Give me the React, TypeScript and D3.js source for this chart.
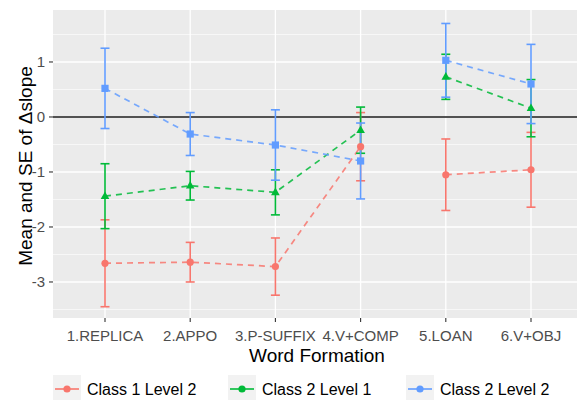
import React from "react";
import * as d3 from "d3";

const categories = ["1.REPLICA", "2.APPO", "3.P-SUFFIX", "4.V+COMP", "5.LOAN", "6.V+OBJ"];
const seriesNames = ["Class 1 Level 2", "Class 2 Level 1", "Class 2 Level 2"];
const seriesColors = ["#F8766D", "#00BA38", "#619CFF"];
const seriesShapes = ["circle", "triangle", "square"];

const meanC1L2 = [-2.66, -2.64, -2.72, -0.54, -1.05, -0.96];
const seC1L2 = [0.79, 0.36, 0.52, 0.62, 0.65, 0.68];
const meanC2L1 = [-1.44, -1.25, -1.37, -0.24, 0.73, 0.16];
const seC2L1 = [0.59, 0.26, 0.41, 0.42, 0.41, 0.52];
const meanC2L2 = [0.52, -0.31, -0.51, -0.80, 1.03, 0.60];
const seC2L2 = [0.73, 0.39, 0.64, 0.69, 0.67, 0.72];

const means = [meanC1L2, meanC2L1, meanC2L2];
const ses = [seC1L2, seC2L1, seC2L2];
const lineGroups = [[0, 1, 2, 3], [4, 5]];

const yTicks = [-3, -2, -1, 0, 1];
const yMinor = [-3.5, -2.5, -1.5, -0.5, 0.5, 1.5];

const W = 577;
const H = 400;
const panel = { left: 53, top: 10, bottom: 318 };

export default function App() {
  const x = d3.scalePoint<string>().domain(categories).range([105, 531]);
  const y = d3.scaleLinear().domain([-3.655, 1.945]).range([panel.bottom, panel.top]);

  const font = "Liberation Sans, Arial, sans-serif";

  const marker = (shape: string, cx: number, cy: number, color: string, s = 1) => {
    if (shape === "circle") return <circle cx={cx} cy={cy} r={3.6 * s} fill={color} />;
    if (shape === "square")
      return <rect x={cx - 3.6 * s} y={cy - 3.6 * s} width={7.2 * s} height={7.2 * s} fill={color} />;
    const r = 4.8 * s;
    const pts = [
      [cx, cy - r],
      [cx + r * 0.9, cy + r * 0.6],
      [cx - r * 0.9, cy + r * 0.6],
    ];
    return <polygon points={pts.map((p) => p.join(",")).join(" ")} fill={color} />;
  };

  return (
    <svg
      width={W}
      height={H}
      style={{ position: "absolute", left: 0, top: 0, background: "#fff" }}
      fontFamily={font}
    >
      <defs>
        <clipPath id="pclip">
          <rect x={panel.left} y={panel.top} width={W - panel.left} height={panel.bottom - panel.top} />
        </clipPath>
      </defs>
      <rect
        x={panel.left}
        y={panel.top}
        width={W - panel.left}
        height={panel.bottom - panel.top}
        fill="#EBEBEB"
      />
      <g clipPath="url(#pclip)">
        {yMinor.map((v) => (
          <line key={"mn" + v} x1={panel.left} x2={W} y1={y(v)} y2={y(v)} stroke="#fff" strokeWidth={0.6} />
        ))}
        {yTicks.map((v) => (
          <line key={"mj" + v} x1={panel.left} x2={W} y1={y(v)} y2={y(v)} stroke="#fff" strokeWidth={1.3} />
        ))}
        {categories.map((c) => (
          <line key={"vx" + c} x1={x(c)} x2={x(c)} y1={panel.top} y2={panel.bottom} stroke="#fff" strokeWidth={1.3} />
        ))}
        <line x1={panel.left} x2={W} y1={y(0)} y2={y(0)} stroke="#1a1a1a" strokeWidth={1.6} />
        {means.map((m, si) =>
          lineGroups.map((g, gi) => {
            const l = d3
              .line<number>()
              .x((i) => x(categories[i]) as number)
              .y((i) => y(m[i]));
            return (
              <path
                key={"l" + si + gi}
                d={l(g) || ""}
                fill="none"
                stroke={seriesColors[si]}
                strokeOpacity={0.85}
                strokeWidth={1.7}
                strokeDasharray="6,5"
              />
            );
          })
        )}
        {means.map((m, si) =>
          m.map((v, i) => {
            const cx = x(categories[i]) as number;
            const lo = y(v - ses[si][i]);
            const hi = y(v + ses[si][i]);
            const c = seriesColors[si];
            return (
              <g key={"e" + si + i}>
                <line x1={cx} x2={cx} y1={lo} y2={hi} stroke={c} strokeWidth={1.6} />
                <line x1={cx - 4.5} x2={cx + 4.5} y1={lo} y2={lo} stroke={c} strokeWidth={1.6} />
                <line x1={cx - 4.5} x2={cx + 4.5} y1={hi} y2={hi} stroke={c} strokeWidth={1.6} />
              </g>
            );
          })
        )}
        {means.map((m, si) =>
          m.map((v, i) => (
            <g key={"p" + si + i}>{marker(seriesShapes[si], x(categories[i]) as number, y(v), seriesColors[si])}</g>
          ))
        )}
      </g>
      {yTicks.map((v) => (
        <g key={"yt" + v}>
          <line x1={49} x2={53} y1={y(v)} y2={y(v)} stroke="#333" strokeWidth={1.1} />
          <text x={45} y={y(v)} dy="0.36em" textAnchor="end" fontSize={15} fill="#4D4D4D">
            {v === 0 ? "0" : v < 0 ? "-" + Math.abs(v) : String(v)}
          </text>
        </g>
      ))}
      {categories.map((c) => (
        <g key={"xt" + c}>
          <line x1={x(c)} x2={x(c)} y1={panel.bottom} y2={panel.bottom + 4} stroke="#333" strokeWidth={1.1} />
          <text x={x(c)} y={340.5} textAnchor="middle" fontSize={15} fill="#4D4D4D">
            {c}
          </text>
        </g>
      ))}
      <text x={317} y={362} textAnchor="middle" fontSize={19} fill="#000">
        Word Formation
      </text>
      <text
        transform={`translate(32, ${(panel.top + panel.bottom) / 2 + 2}) rotate(-90)`}
        textAnchor="middle"
        fontSize={19}
        fill="#000"
      >
        Mean and SE of Δslope
      </text>
      {seriesNames.map((n, si) => {
        const kx = [53, 228, 406][si];
        const cy = 389;
        return (
          <g key={"lg" + si}>
            <rect x={kx} y={cy - 14} width={28} height={28} fill="#F2F2F2" />
            <line x1={kx + 2} x2={kx + 26} y1={cy} y2={cy} stroke={seriesColors[si]} strokeWidth={1.6} />
            <circle cx={kx + 14} cy={cy} r={3.6} fill={seriesColors[si]} />
            <text x={kx + 34} y={cy} dy="0.36em" fontSize={16} fill="#000">
              {n}
            </text>
          </g>
        );
      })}
    </svg>
  );
}
